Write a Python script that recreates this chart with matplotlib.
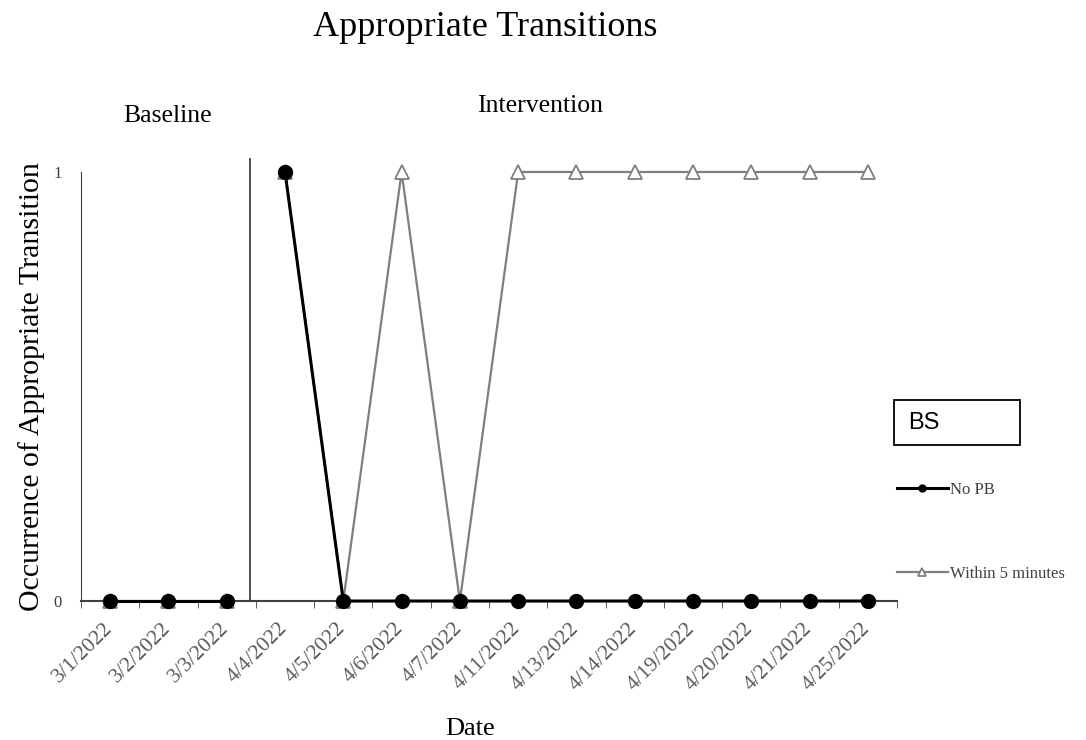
import matplotlib.pyplot as plt
import matplotlib.transforms as mtransforms
import numpy as np

plt.rcParams['font.family'] = ['Liberation Serif', 'DejaVu Serif']

dates = ['3/1/2022', '3/2/2022', '3/3/2022', '4/4/2022', '4/5/2022', '4/6/2022',
         '4/7/2022', '4/11/2022', '4/13/2022', '4/14/2022', '4/19/2022',
         '4/20/2022', '4/21/2022', '4/25/2022']
no_pb = [0, 0, 0, 1, 0, 0, 0, 0, 0, 0, 0, 0, 0, 0]
within_5 = [0, 0, 0, 1, 0, 1, 0, 1, 1, 1, 1, 1, 1, 1]
n_baseline = 3

x = np.arange(len(dates))
phases = [slice(0, n_baseline), slice(n_baseline, len(dates))]

fig = plt.figure(figsize=(10.86, 7.4), dpi=100)
ax = fig.add_axes([0.0746, 0.1878, 0.7514, 0.5798])

grey = '#7f7f7f'
for i, s in enumerate(phases):
    ax.plot(x[s], no_pb[s], color='black', lw=2.2, marker='o', ms=10,
            mfc='black', mec='black', clip_on=False, zorder=5,
            label='No PB' if i == 0 else None)
for i, s in enumerate(phases):
    ax.plot(x[s], within_5[s], color=grey, lw=1.6, marker='^', ms=10.5,
            mfc='white', mec=grey, mew=1.3, clip_on=False, zorder=4,
            label='Within 5 minutes' if i == 0 else None)

# phase change line
ax.axvline(n_baseline - 0.6, ymin=0, ymax=1.03, color='#404040', lw=1.3,
           clip_on=False)

ax.set_xlim(-0.5, len(dates) - 0.5)
ax.set_ylim(0, 1)
ax.set_yticks([0, 1])
ax.set_yticklabels(['0', '1'], fontsize=12, color='#404040')
ax.tick_params(axis='y', length=0, pad=14)
ax.set_xticks(x)
ax.set_xticklabels(dates, rotation=45, ha='right', fontsize=15.5, color='#595959')
ax.set_xticks(np.arange(len(dates) + 1) - 0.5, minor=True)
ax.tick_params(axis='x', which='major', length=0, pad=13)
ax.tick_params(axis='x', which='minor', length=5, color='#404040')
# nudge date labels a little to the right, like the original
shift = mtransforms.ScaledTranslation(6 / 100, 0, fig.dpi_scale_trans)
for lab in ax.xaxis.get_majorticklabels():
    lab.set_transform(lab.get_transform() + shift)

for side in ['top', 'right']:
    ax.spines[side].set_visible(False)
ax.spines['left'].set_color('#404040')
ax.spines['bottom'].set_color('#404040')
ax.spines['bottom'].set_linewidth(1.5)

ax.set_ylabel('Occurrence of Appropriate Transition', fontsize=21.5, labelpad=6)

fig.text(0.447, 1 - 36 / 740, 'Appropriate Transitions', fontsize=26, ha='center',
         va='baseline')
fig.text(0.433, 1 - 735 / 740, 'Date', fontsize=19, ha='center', va='baseline')
fig.text(0.154, 1 - 122 / 740, 'Baseline', fontsize=18.5, ha='center', va='baseline')
fig.text(0.497, 1 - 112 / 740, 'Intervention', fontsize=18.5, ha='center', va='baseline')

# "BS" box
fig.text(0.836, 0.428, 'BS', fontsize=17, family='Liberation Sans', va='center',
         ha='left')
box = plt.Rectangle((0.823, 0.399), 0.116, 0.061, transform=fig.transFigure,
                    fill=False, ec='black', lw=1.3)
fig.add_artist(box)

leg = ax.legend(loc='upper left', bbox_to_anchor=(0.812, 0.369),
                bbox_transform=fig.transFigure, frameon=False,
                fontsize=12, labelspacing=4.1, handlelength=3.05, handletextpad=0.15,
                markerscale=0.5)
for t in leg.get_texts():
    t.set_color('#404040')

fig.savefig('out.png', dpi=100)
